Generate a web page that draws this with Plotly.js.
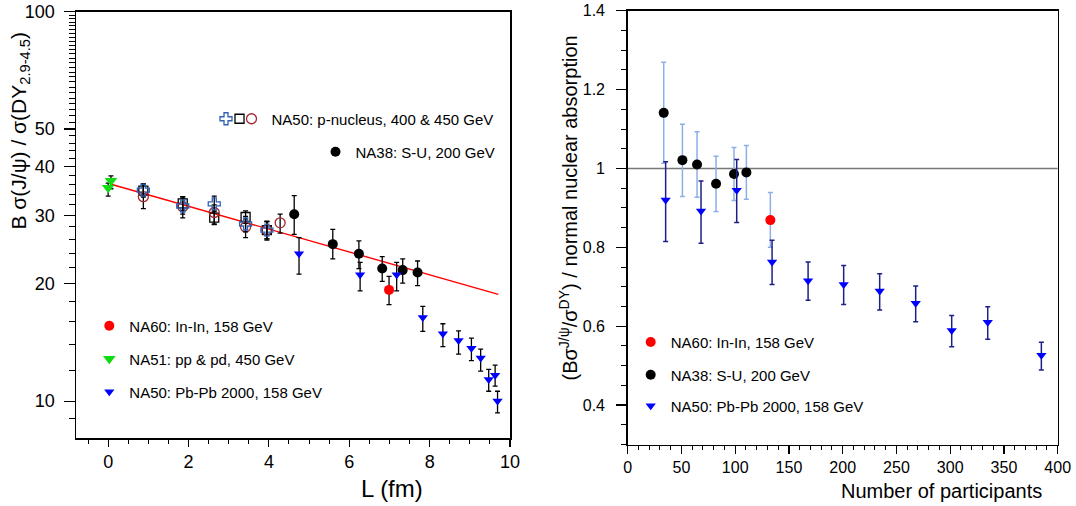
<!DOCTYPE html>
<html>
<head>
<meta charset="utf-8">
<script src="https://cdn.plot.ly/plotly-3.0.1.min.js"></script>
<style>html,body{margin:0;padding:0;background:#fff;}#chart{width:1076px;height:506px;}</style>
</head>
<body>
<div id="chart"></div>
<script>
// ---------- Left panel: B sigma(J/psi)/sigma(DY) vs L (fm) ----------
const fitL = [0.05, 9.71];
const fitR = [36.1, 18.8];

const na51L = [0.0, 0.07];
const na51R = [35.3, 36.8];
const na51Up = [1.0, 1.1];
const na51Dn = [1.7, 1.7];

const pnL = [0.876, 1.856, 2.64, 3.42, 3.95];
const pnCrossR = [34.8, 31.7, 32.1, 28.5, 27.5];
const pnCrossErr = [1.2, 1.5, 1.5, 1.3, 1.4];
const pnSquareR = [34.7, 32.2, 29.6, 29.7, 27.5];
const pnSquareErr = [1.3, 1.3, 1.2, 1.1, 1.4];
const pnCircL = [0.876, 1.856, 2.64, 3.42, 3.95, 4.28];
const pnCircR = [33.5, 31.55, 30.5, 28.0, 27.5, 28.7];
const pnCircUp = [2.7, 1.9, 1.4, 1.4, 1.5, 1.5];
const pnCircDn = [2.3, 2.0, 2.0, 1.7, 1.6, 1.7];

const suL = [4.63, 5.59, 6.24, 6.82, 7.33, 7.70];
const suR = [30.2, 25.3, 23.9, 21.9, 21.7, 21.4];
const suUp = [3.5, 2.3, 1.9, 1.6, 1.5, 1.5];
const suDn = [3.4, 2.1, 2.0, 1.6, 1.6, 1.6];

const ininL = [6.99];
const ininR = [19.3];
const ininUp = [1.6];
const ininDn = [1.6];

const pbL = [4.75, 6.27, 7.18, 7.83, 8.33, 8.72, 9.04, 9.27, 9.47, 9.63, 9.69];
const pbR = [23.9, 21.1, 21.1, 16.4, 14.9, 14.3, 13.66, 12.9, 11.37, 11.66, 10.0];
const pbUp = [2.4, 1.6, 1.6, 1.1, 0.9, 0.85, 0.85, 0.7, 0.69, 0.71, 0.6];
const pbDn = [2.7, 1.9, 1.9, 1.3, 1.1, 1.1, 0.96, 0.96, 0.77, 0.73, 0.67];

const leftXTicks = [0, 2, 4, 6, 8, 10];
const leftYTicks = [10, 20, 30, 40, 50, 100];
const leftYMinor = [9, 12, 14, 16, 18, 22, 24, 26, 28, 32, 34, 36, 38, 42, 44, 46, 48,
  52, 54, 56, 58, 60, 62, 64, 66, 68, 70, 72, 74, 76, 78, 80, 82, 84, 86, 88, 90, 92, 94, 96, 98];

// ---------- Right panel: ratio / normal nuclear absorption vs Npart ----------
const suN = [33.5, 50.9, 64.5, 82.2, 98.9, 110.4];
const suRatio = [1.141, 1.021, 1.010, 0.961, 0.986, 0.990];
const suRatioUp = [0.128, 0.091, 0.083, 0.070, 0.067, 0.068];
const suRatioDn = [0.128, 0.092, 0.083, 0.070, 0.067, 0.068];

const ininN = [132.7];
const ininRatio = [0.869];
const ininRatioUp = [0.070];
const ininRatioDn = [0.069];

const pbN = [35.3, 68.2, 101.4, 134.3, 167.8, 200.9, 234.4, 267.9, 301.4, 334.9, 384.8];
const pbRatio = [0.920, 0.892, 0.945, 0.763, 0.715, 0.706, 0.689, 0.658, 0.589, 0.610, 0.526];
const pbRatioUp = [0.097, 0.076, 0.078, 0.055, 0.048, 0.048, 0.044, 0.044, 0.038, 0.039, 0.033];
const pbRatioDn = [0.105, 0.082, 0.082, 0.057, 0.049, 0.051, 0.048, 0.047, 0.041, 0.043, 0.037];

const refLevel = 1;
const rightXTicks = [0, 50, 100, 150, 200, 250, 300, 350, 400];
const rightYTicks = [0.4, 0.6, 0.8, 1.0, 1.2, 1.4];
const rightYTickText = ['0.4', '0.6', '0.8', '1', '1.2', '1.4'];

// ---------- styling ----------
const W = 1076, H = 506;
const FONT = 'Liberation Sans, Arial, Helvetica, sans-serif';
const px = v => v / W;
const py = v => 1 - v / H;

function err(up, dn, color, thick, width) {
  return {type: 'data', symmetric: false, array: up, arrayminus: dn,
          color: color, thickness: thick, width: width, visible: true};
}
function leg(xpx, ypx) {
  return {x: px(xpx - 20), y: py(ypx), xanchor: 'left', yanchor: 'middle',
          bgcolor: 'rgba(0,0,0,0)', borderwidth: 0, itemwidth: 30,
          font: {family: FONT, size: 15, color: '#000'}};
}

const traces = [
  {x: fitL, y: fitR, xaxis: 'x', yaxis: 'y', mode: 'lines', showlegend: false,
   line: {color: '#ff0000', width: 1.4}, hoverinfo: 'skip'},
  {x: pnL, y: pnSquareR, xaxis: 'x', yaxis: 'y', mode: 'markers', name: ' ', legend: 'legend2',
   marker: {symbol: 'square-open', size: 9, color: '#000', line: {width: 1.3}},
   error_y: err(pnSquareErr, pnSquareErr, '#000', 1.3, 2.5)},
  {x: pnCircL, y: pnCircR, xaxis: 'x', yaxis: 'y', mode: 'markers', name: 'NA50: p-nucleus, 400 & 450 GeV', legend: 'legend3',
   marker: {symbol: 'circle-open', size: 10, color: '#a3282f', line: {width: 1.3}},
   error_y: err(pnCircUp, pnCircDn, '#000', 1.3, 2.5)},
  {x: pnL, y: pnCrossR, xaxis: 'x', yaxis: 'y', mode: 'markers', name: ' ', legend: 'legend',
   marker: {symbol: 'cross-open', size: 10, color: '#2f62b5', line: {width: 1.3}},
   error_y: err(pnCrossErr, pnCrossErr, '#000', 1.3, 2.5)},
  {x: na51L, y: na51R, xaxis: 'x', yaxis: 'y', mode: 'markers', name: 'NA51: pp & pd, 450 GeV', legend: 'legend6',
   marker: {symbol: 'triangle-down', size: 11, color: '#10dc10'},
   error_y: err(na51Up, na51Dn, '#000', 1.3, 2.5)},
  {x: suL, y: suR, xaxis: 'x', yaxis: 'y', mode: 'markers', name: 'NA38: S-U, 200 GeV', legend: 'legend4',
   marker: {symbol: 'circle', size: 10, color: '#000'},
   error_y: err(suUp, suDn, '#000', 1.3, 2.5)},
  {x: pbL, y: pbR, xaxis: 'x', yaxis: 'y', mode: 'markers', name: 'NA50: Pb-Pb 2000, 158 GeV', legend: 'legend7',
   marker: {symbol: 'triangle-down', size: 9, color: '#0000ff'},
   error_y: err(pbUp, pbDn, '#000', 1.3, 2.5)},
  {x: ininL, y: ininR, xaxis: 'x', yaxis: 'y', mode: 'markers', name: 'NA60: In-In, 158 GeV', legend: 'legend5',
   marker: {symbol: 'circle', size: 10, color: '#ff0000'},
   error_y: err(ininUp, ininDn, '#000', 1.3, 2.5)},

  {x: suN, y: suRatio, xaxis: 'x2', yaxis: 'y2', mode: 'markers', name: 'NA38: S-U, 200 GeV', legend: 'legend9',
   marker: {symbol: 'circle', size: 10, color: '#000'},
   error_y: err(suRatioUp, suRatioDn, '#8eaee6', 1.5, 2.5)},
  {x: ininN, y: ininRatio, xaxis: 'x2', yaxis: 'y2', mode: 'markers', name: 'NA60: In-In, 158 GeV', legend: 'legend8',
   marker: {symbol: 'circle', size: 10, color: '#ff0000'},
   error_y: err(ininRatioUp, ininRatioDn, '#8eaee6', 1.5, 2.5)},
  {x: pbN, y: pbRatio, xaxis: 'x2', yaxis: 'y2', mode: 'markers', name: 'NA50: Pb-Pb 2000, 158 GeV', legend: 'legend10',
   marker: {symbol: 'triangle-down', size: 9, color: '#0000ff'},
   error_y: err(pbRatioUp, pbRatioDn, '#1f1f88', 1.5, 2.5)}
];

const axisBase = {showgrid: false, zeroline: false, showline: true, mirror: true,
  linecolor: '#000', linewidth: 1.5, ticks: 'outside', tickcolor: '#000', tickwidth: 1.2,
  tickfont: {family: FONT, color: '#000'}};

const layout = {
  width: W, height: H,
  margin: {l: 0, r: 0, t: 0, b: 0},
  paper_bgcolor: '#fff', plot_bgcolor: '#fff',
  font: {family: FONT, color: '#000'},
  showlegend: true,
  xaxis: Object.assign({}, axisBase, {
    domain: [px(76), px(510)], range: [-0.8, 10.0], anchor: 'y',
    tickmode: 'array', tickvals: leftXTicks, ticklen: 7, ticklabelstandoff: 0,
    tickfont: {family: FONT, size: 18, color: '#000'},
    minor: {tickmode: 'linear', tick0: 0, dtick: 0.5, ticks: 'outside', ticklen: 4, tickwidth: 1, tickcolor: '#000'}
  }),
  yaxis: Object.assign({}, axisBase, {
    type: 'log', domain: [py(438), py(11.7)], range: [Math.log10(8.04), 2], anchor: 'x',
    tickmode: 'array', tickvals: leftYTicks, ticktext: leftYTicks.map(String), ticklen: 11, ticklabelstandoff: 5,
    tickfont: {family: FONT, size: 18, color: '#000'},
    minor: {tickmode: 'array', tickvals: leftYMinor, ticks: 'outside', ticklen: 6, tickwidth: 1, tickcolor: '#000'}
  }),
  xaxis2: Object.assign({}, axisBase, {
    domain: [px(627.7), px(1057.7)], range: [0, 400], anchor: 'y2',
    tickmode: 'array', tickvals: rightXTicks, ticklen: 8, ticklabelstandoff: 0,
    tickfont: {family: FONT, size: 16, color: '#000'},
    minor: {tickmode: 'linear', tick0: 0, dtick: 10, ticks: 'outside', ticklen: 4, tickwidth: 1, tickcolor: '#000'}
  }),
  yaxis2: Object.assign({}, axisBase, {
    domain: [py(444.5), py(10.7)], range: [0.3, 1.4], anchor: 'x2',
    tickmode: 'array', tickvals: rightYTicks, ticktext: rightYTickText, ticklen: 10, ticklabelstandoff: 8,
    tickfont: {family: FONT, size: 16, color: '#000'},
    minor: {tickmode: 'linear', tick0: 0, dtick: 0.05, ticks: 'outside', ticklen: 5, tickwidth: 1, tickcolor: '#000'}
  }),
  shapes: [
    {type: 'line', xref: 'x2 domain', x0: 0, x1: 1, yref: 'y2', y0: refLevel, y1: refLevel,
     line: {color: '#777', width: 1.6}, layer: 'below'}
  ],
  legend: leg(226, 119),
  legend2: leg(239.5, 119),
  legend3: leg(251.5, 119),
  legend4: leg(335.5, 152),
  legend5: leg(109.3, 326),
  legend6: leg(109.3, 359),
  legend7: leg(109.3, 392),
  legend8: leg(650.7, 342.3),
  legend9: leg(650.7, 375),
  legend10: leg(650.7, 406),
  annotations: [
    {text: 'L (fm)', xref: 'paper', yref: 'paper', x: px(392), y: py(488), xanchor: 'center', yanchor: 'middle',
     showarrow: false, font: {family: FONT, size: 24, color: '#000'}},
    {text: 'B σ(J/ψ) / σ(DY<sub>2.9-4.5</sub>)', xref: 'paper', yref: 'paper', x: px(20), y: py(131.5),
     xanchor: 'center', yanchor: 'middle', textangle: -90, showarrow: false,
     font: {family: FONT, size: 21, color: '#000'}},
    {text: 'Number of participants', xref: 'paper', yref: 'paper', x: px(941.7), y: py(491),
     xanchor: 'center', yanchor: 'middle', showarrow: false, font: {family: FONT, size: 20, color: '#000'}},
    {text: '(Bσ<sup>J/ψ</sup>/σ<sup>DY</sup>) / normal nuclear absorption', xref: 'paper', yref: 'paper',
     x: px(567.5), y: py(208), xanchor: 'center', yanchor: 'middle', textangle: -90, showarrow: false,
     font: {family: FONT, size: 20, color: '#000'}}
  ]
};

Plotly.newPlot('chart', traces, layout, {staticPlot: true, displayModeBar: false});
</script>
</body>
</html>
